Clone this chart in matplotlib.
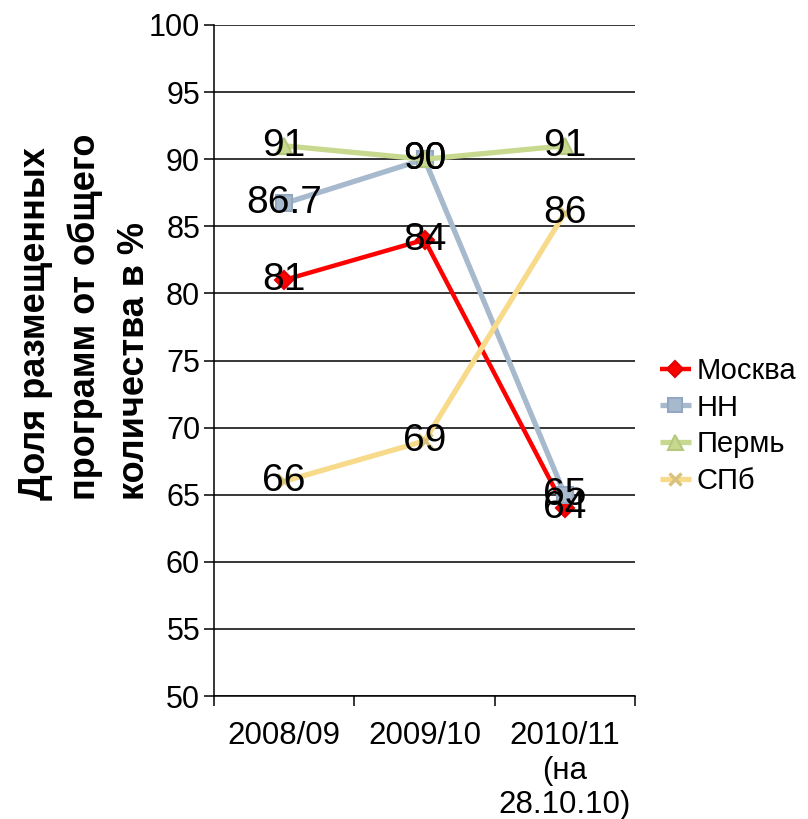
import matplotlib.pyplot as plt
from matplotlib.ticker import FixedLocator, NullFormatter

plt.rcParams['font.family'] = ['Liberation Sans', 'DejaVu Sans']

# chart data
categories = ['2008/09', '2009/10', '2010/11\n(на\n28.10.10)']
moscow = [81, 84, 64]
nn = [86.7, 90, 65]
perm = [91, 90, 91]
spb = [66, 69, 86]

series = [
    ('Москва', moscow, '#FF0000', '#E00000', 'D', 9, 3.2),
    ('НН', nn, '#A7B9CD', '#93A8C0', 's', 11, 3.8),
    ('Пермь', perm, '#C6D98F', '#B5C97E', '^', 12, 3.8),
    ('СПб', spb, '#F7DA8A', '#D8C27E', 'x', 10, 3.8),
]

fig = plt.figure(figsize=(8.08, 8.19), dpi=100)
ax = fig.add_axes([214 / 808, 123 / 819, 421 / 808, 671 / 819])

xs = list(range(1, len(categories) + 1))
for name, vals, col, ecol, mk, ms, lw in series:
    ax.plot(xs, vals, color=col, lw=lw, marker=mk, ms=ms,
            markerfacecolor=col, markeredgecolor=ecol, mew=1.5 if mk != 'x' else 2.5,
            label=name, solid_capstyle='butt')

# data labels
for name, vals, *_ in series:
    for x, v in zip(xs, vals):
        lbl = ('%g' % v)
        ax.text(x, v, lbl, ha='center', va='center', fontsize=28, color='black', zorder=5)

ax.set_ylim(50, 100)
ax.set_xlim(0.5, len(categories) + 0.5)
ax.set_yticks(range(50, 101, 5))
ax.yaxis.grid(True, color='black', lw=1.1)
ax.set_axisbelow(True)

ax.xaxis.set_major_locator(FixedLocator([0.5, 1.5, 2.5, 3.5]))
ax.xaxis.set_major_formatter(NullFormatter())
ax.xaxis.set_minor_locator(FixedLocator(xs))
ax.set_xticklabels(categories, minor=True, fontsize=22.5, linespacing=1.2,
                   va='top', ha='center')
ax.tick_params(axis='x', which='major', length=7, width=1.1, direction='out')
ax.tick_params(axis='x', which='minor', length=0, pad=18)
ax.tick_params(axis='y', length=7, width=1.1, labelsize=22, pad=3)

for s in ['top', 'right']:
    ax.spines[s].set_visible(False)
for s in ['left', 'bottom']:
    ax.spines[s].set_color('black')
    ax.spines[s].set_linewidth(1.1)

fig.text(18 / 808, 319 / 819, 'Доля размещенных\nпрограмм от общего\nколичества в %',
         rotation=90, ha='left', va='bottom', multialignment='left',
         fontsize=26, fontweight='bold', linespacing=1.52)

fig.legend(loc='center left', bbox_to_anchor=(660 / 808, 1 - 426 / 819),
           frameon=False, fontsize=21, handlelength=1.05, handletextpad=0.2,
           labelspacing=0.3, borderpad=0, borderaxespad=0, markerscale=0.9)

fig.savefig('out.png', dpi=100)
